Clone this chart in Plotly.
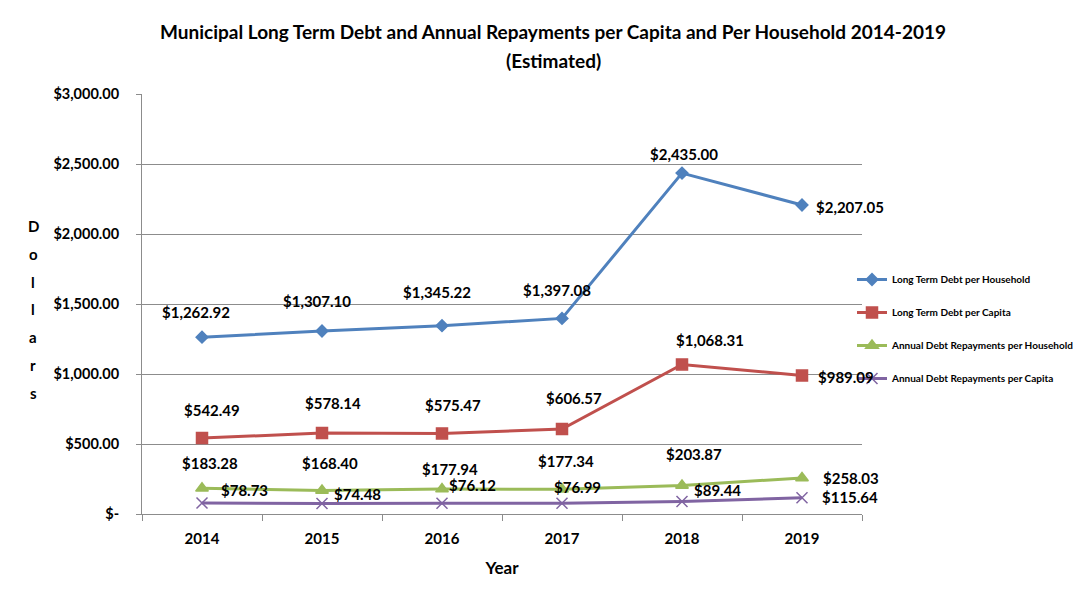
import plotly.graph_objects as go

years = ["2014", "2015", "2016", "2017", "2018", "2019"]
ltd_household = [1262.92, 1307.10, 1345.22, 1397.08, 2435.00, 2207.05]
ltd_capita = [542.49, 578.14, 575.47, 606.57, 1068.31, 989.09]
rep_household = [183.28, 168.40, 177.94, 177.34, 203.87, 258.03]
rep_capita = [78.73, 74.48, 76.12, 76.99, 89.44, 115.64]

series_names = [
    "Long Term Debt per Household",
    "Long Term Debt per Capita",
    "Annual Debt Repayments per Household",
    "Annual Debt Repayments per Capita",
]
y_tickvals = [0, 500, 1000, 1500, 2000, 2500, 3000]
y_ticktext = ["$-", "$500.00", "$1,000.00", "$1,500.00", "$2,000.00", "$2,500.00", "$3,000.00"]

# style
colors = ["#4F81BD", "#C0504D", "#9BBB59", "#8064A2"]
symbols = ["diamond", "square", "triangle-up", "x-thin-open"]
msizes = [9, 11, 11, 11]
# label pixel offsets (dx, dy) per series per point
label_offsets = [
    [(-6, 25), (-5, 30), (-5, 34), (-5, 28), (2, 19), (48, -2)],
    [(10, 28), (11, 30), (11, 28), (12, 31), (28, 24), (44, -1)],
    [(8, 25), (8, 27), (8, 20), (4, 28), (12, 31), (49, 0)],
    [(42, 13), (35, 10), (30, 18), (15, 16), (35, 11), (48, 1)],
]

FONT = "Lato"
OFF = 8  # page body margin offset
W, H = 1088 - OFF, 593 - OFF
L, T = 142 - OFF, 94 - OFF
pw, ph = 720, 420
R = W - L - pw
B = H - T - ph


def px_x(x):
    return (x - OFF - L) / pw


def px_y(y):
    return (H - (y - OFF) - B) / ph


all_series = [ltd_household, ltd_capita, rep_household, rep_capita]

fig = go.Figure()
for i, (name, vals) in enumerate(zip(series_names, all_series)):
    fig.add_trace(go.Scatter(
        x=years, y=vals, name=name, mode="lines+markers",
        line=dict(color=colors[i], width=3),
        marker=dict(symbol=symbols[i], size=msizes[i], color=colors[i],
                    line=dict(color=colors[i], width=1.5)),
        legendgroup=f"g{i}",
    ))

annotations = []
for i, vals in enumerate(all_series):
    for j, v in enumerate(vals):
        dx, dy = label_offsets[i][j]
        annotations.append(dict(
            x=j, y=v, xref="x", yref="y", text=f"${v:,.2f}",
            showarrow=False, xshift=dx, yshift=dy,
            font=dict(family=FONT, size=15, color="black", weight="bold"),
        ))

# vertical stacked axis title
for k, ch in enumerate("Dollars"):
    annotations.append(dict(
        x=px_x(33), y=px_y(226 + 27.8 * k), xref="paper", yref="paper",
        text=ch, showarrow=False, xanchor="center", yanchor="middle",
        font=dict(family=FONT, size=15, color="black", weight="bold"),
    ))

title_lines = [
    "Municipal Long Term Debt and Annual Repayments per Capita and Per Household 2014-2019",
    "(Estimated)",
]
for k, t in enumerate(title_lines):
    annotations.append(dict(
        x=px_x(553), y=px_y(31 + 29 * k), xref="paper", yref="paper",
        text=t, showarrow=False, xanchor="center", yanchor="middle",
        font=dict(family=FONT, size=19, color="black", weight="bold"),
    ))

fig.update_layout(
    width=W, height=H,
    margin=dict(l=L, r=R, t=T, b=B, autoexpand=False),
    paper_bgcolor="white", plot_bgcolor="white",
    font=dict(family=FONT, color="black"),
    showlegend=True,
    legend=dict(
        x=px_x(852), y=px_y(265), xanchor="left", yanchor="top",
        font=dict(family=FONT, size=10, color="black", weight="bold"),
        tracegroupgap=14, itemwidth=30,
        bgcolor="rgba(0,0,0,0)",
    ),
    xaxis=dict(
        type="category", range=[-0.5, 5.5],
        showline=True, linecolor="#8c8c8c", linewidth=1,
        ticks="outside", tickson="boundaries", ticklen=6, tickcolor="#8c8c8c",
        tickfont=dict(family=FONT, size=15, color="black", weight="bold"),
        ticklabelstandoff=11,
        showgrid=False,
        title=dict(text="Year", font=dict(family=FONT, size=17, color="black", weight="bold"), standoff=16),
    ),
    yaxis=dict(
        range=[0, 3000], tickvals=y_tickvals, ticktext=y_ticktext,
        showline=True, linecolor="#8c8c8c", linewidth=1,
        ticks="outside", ticklen=5, tickcolor="#8c8c8c",
        showgrid=True, gridcolor="#8c8c8c", gridwidth=1,
        zeroline=False,
        tickfont=dict(family=FONT, size=14.5, color="black", weight="bold"),
        ticklabelstandoff=14,
    ),
    annotations=annotations,
    shapes=[dict(type="rect", xref="paper", yref="paper",
                 x0=px_x(6), x1=px_x(1100),
                 y0=px_y(610), y1=px_y(6),
                 line=dict(color="#8c8c8c", width=1), layer="below")],
)

fig.write_html("out.html")
